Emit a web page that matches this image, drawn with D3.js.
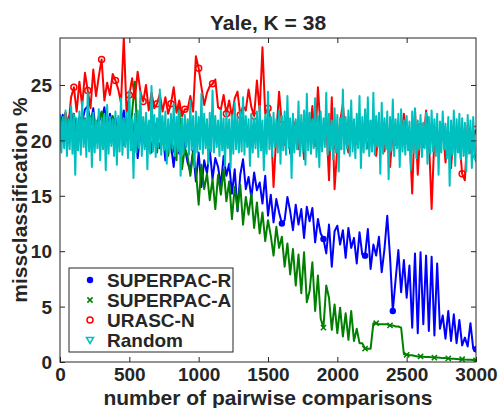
<!DOCTYPE html>
<html>
<head>
<meta charset="utf-8">
<script src="https://cdn.jsdelivr.net/npm/d3@7"></script>
<style>
  body { margin: 0; background: #fff; }
  text { font-family: "Liberation Sans", Arial, sans-serif; font-weight: bold; fill: #262626; }
</style>
</head>
<body>
<div id="chart"></div>
<script>
// sample positions (number of pairwise comparisons)
const xCoarse = d3.range(0, 3001, 20);
const xFine = d3.range(0, 3001, 10);

const xTicks = [0, 500, 1000, 1500, 2000, 2500, 3000];
const yTicks = [0, 5, 10, 15, 20, 25];

const names = ["SUPERPAC-R", "SUPERPAC-A", "URASC-N", "Random"];

// SUPERPAC-R, step 20
const superpacR = [
  21.5, 22.3, 20.8, 21.9, 22.6, 21.2, 20.5, 22.1, 21.7, 22.8,
  23.1, 21.4, 22.9, 20.6, 22.2, 21.8, 23.0, 20.9, 22.4, 21.3,
  22.0, 19.8, 21.5, 22.7, 20.3, 21.1, 19.2, 21.9, 18.4, 20.6,
  21.3, 19.5, 20.8, 18.9, 21.6, 20.1, 19.3, 21.0, 18.2, 20.4,
  19.6, 17.6, 20.2, 18.8, 21.0, 19.4, 18.0, 17.2, 19.1, 16.3,
  18.9, 15.8, 18.2, 17.0, 19.2, 16.5, 18.4, 17.6, 15.9, 18.6,
  16.8, 17.9, 15.2, 17.4, 13.6, 16.9, 18.3, 15.6, 16.7, 14.8,
  17.1, 15.5, 16.2, 14.3, 16.8, 13.2, 15.1, 12.6, 14.7, 13.5,
  12.5, 12.8, 14.9, 13.6, 11.9, 14.2, 12.4, 13.8, 11.2, 14.0,
  12.7, 13.9, 10.8, 12.9, 11.6, 11.1, 9.8, 12.4, 8.6, 11.8,
  12.3, 10.6, 11.9, 9.4, 12.1, 10.3, 11.2, 8.9, 11.7, 9.7,
  9.6, 12.0, 8.4, 10.6, 9.6, 11.3, 8.1, 10.2, 13.2, 9.5,
  4.6, 7.4, 10.1, 6.3, 9.2, 5.8, 8.7, 3.1, 9.8, 2.6,
  9.9, 3.4, 9.6, 2.8, 9.5, 2.4, 8.9, 3.0, 4.2, 2.1,
  4.6, 1.9, 4.3, 1.7, 3.8, 1.5, 2.2, 1.4, 3.5, 1.2,
  1.15
];

// SUPERPAC-A, step 20
const superpacA = [
  21.2, 20.4, 22.1, 21.6, 20.9, 22.4, 21.0, 20.2, 21.8, 22.0,
  20.6, 21.5, 22.3, 20.1, 21.9, 22.6, 20.8, 21.3, 19.9, 22.2,
  21.4, 20.5, 22.0, 19.6, 21.7, 20.3, 22.5, 25.3, 19.8, 21.6,
  20.2, 21.8, 19.4, 21.2, 20.7, 18.9, 21.5, 19.7, 20.9, 18.6,
  20.3, 19.1, 18.2, 23.4, 17.4, 19.3, 18.6, 16.8, 18.9, 17.3,
  14.2, 17.8, 15.6, 17.0, 14.6, 16.5, 13.8, 16.9, 15.1, 17.4,
  14.5, 16.3, 12.9, 15.8, 13.7, 16.0, 12.4, 14.9, 13.3, 15.2,
  12.1, 14.4, 11.6, 13.5, 10.9, 12.8, 11.4, 9.6, 12.2, 10.3,
  11.3, 8.6, 10.7, 7.9, 10.2, 6.9, 9.7, 6.2, 9.9, 5.4,
  6.4, 9.0, 4.6, 7.8, 3.9, 3.1, 6.9, 5.8, 2.9, 5.2,
  2.6, 4.9, 2.3, 4.4, 2.0, 4.6, 1.9, 3.0, 1.7, 1.7,
  1.2, 1.2, 1.2, 3.5, 3.5, 3.4, 3.4, 3.4, 3.4, 3.3,
  3.3, 3.2, 3.2, 3.1, 0.7, 0.65, 0.6, 0.6, 0.55, 0.5,
  0.5, 0.48, 0.45, 0.45, 0.42, 0.4, 0.4, 0.38, 0.35, 0.35,
  0.33, 0.3, 0.3, 0.28, 0.25, 0.25, 0.22, 0.2, 0.2, 0.18,
  0.15
];

// URASC-N, step 20
const urascN = [
  20.5, 21.8, 22.5, 21.2, 23.9, 24.8, 22.6, 25.3, 23.1, 26.1,
  24.5, 22.9, 26.4, 24.0, 25.8, 27.3, 23.6, 25.2, 24.1, 26.0,
  25.4, 24.6, 23.4, 29.3, 22.5, 24.1, 25.6, 23.8, 26.2, 24.4,
  23.5, 25.0, 22.7, 24.3, 22.9, 23.3, 24.2, 22.6, 23.9, 22.4,
  23.3, 24.8, 22.5, 23.6, 22.2, 22.8, 22.8, 24.0, 22.6, 27.6,
  26.5, 24.8, 23.2, 24.3, 24.9, 25.1, 25.5, 23.0, 22.8, 24.1,
  22.4, 23.6, 22.1, 23.8, 24.4, 22.3, 23.1, 22.7, 24.6, 23.0,
  22.2, 25.4, 22.6, 28.4, 22.4, 22.9, 21.9, 15.8, 20.6, 24.4,
  21.4, 19.6, 22.3, 18.8, 21.8, 21.2, 19.2, 21.6, 18.3, 22.5,
  20.7, 23.1, 19.5, 24.8, 20.9, 20.3, 21.8, 16.4, 23.9, 15.6,
  19.4, 21.7, 23.3, 20.1, 18.9, 21.0, 20.6, 19.7, 21.5, 20.0,
  20.5, 19.3, 21.0, 20.4, 18.6, 21.0, 20.2, 19.0, 21.3, 17.6,
  20.8, 19.6, 21.5, 20.0, 22.4, 20.2, 20.7, 15.2, 22.8, 16.9,
  21.2, 19.4, 22.7, 20.3, 13.8, 20.3, 20.9, 19.1, 21.6, 18.0,
  20.4, 17.5, 21.1, 19.6, 20.0, 17.0, 16.4, 21.4, 18.9, 20.2,
  21.0
];

// Random, step 10
const random = [
  22.4, 18.9, 22.1, 19.3, 22.7, 18.6, 21.9, 19.2, 23.1, 18.8,
  22.3, 16.9, 22.0, 19.1, 22.6, 18.7, 23.5, 19.4, 21.9, 18.5,
  24.3, 19.0, 22.2, 17.6, 22.5, 18.9, 21.8, 19.3, 22.8, 18.2,
  22.0, 19.2, 22.4, 17.3, 23.2, 18.8, 22.1, 19.5, 21.9, 18.6,
  22.6, 17.8, 22.2, 19.0, 23.8, 18.7, 22.0, 19.4, 22.5, 18.4,
  24.5, 19.1, 21.9, 16.6, 22.4, 18.9, 22.7, 19.3, 24.4, 18.6,
  22.1, 19.2, 22.5, 17.4, 21.8, 18.8, 24.9, 19.0, 22.3, 18.5,
  22.0, 19.4, 24.6, 18.7, 22.2, 19.1, 22.6, 17.9, 21.9, 18.9,
  22.4, 19.3, 23.3, 18.6, 22.1, 19.0, 22.7, 16.8, 22.0, 18.8,
  22.3, 19.4, 21.9, 18.7, 23.6, 19.1, 22.2, 17.6, 22.6, 18.9,
  22.1, 19.2, 24.2, 18.8, 22.4, 19.3, 21.9, 17.9, 22.5, 19.0,
  24.5, 18.9, 22.2, 19.4, 21.8, 18.6, 22.7, 19.1, 22.0, 17.7,
  22.5, 19.3, 21.9, 17.5, 22.3, 18.8, 23.4, 19.2, 22.1, 18.9,
  22.6, 19.0, 23.9, 18.7, 22.2, 19.4, 21.9, 17.7, 22.4, 18.9,
  22.0, 19.3, 22.6, 18.5, 23.1, 19.1, 21.8, 17.3, 22.3, 18.8,
  24.4, 19.2, 22.1, 18.6, 22.5, 19.4, 21.9, 18.9, 22.7, 17.9,
  22.2, 19.1, 22.6, 18.7, 24.0, 19.3, 22.0, 16.6, 22.4, 18.9,
  21.9, 19.2, 23.5, 18.6, 22.3, 19.0, 22.7, 17.8, 24.2, 19.1,
  22.5, 18.8, 21.9, 19.3, 23.8, 18.5, 22.2, 17.6, 22.6, 19.0,
  22.0, 19.4, 24.3, 18.7, 22.4, 19.1, 21.8, 18.3, 22.9, 18.9,
  22.3, 17.2, 22.0, 19.2, 24.6, 18.8, 22.1, 19.3, 22.7, 18.6,
  23.6, 19.0, 21.9, 18.4, 22.4, 19.3, 24.0, 17.5, 22.1, 18.9,
  22.8, 19.2, 23.9, 18.6, 21.8, 19.0, 24.3, 18.7, 22.2, 19.4,
  22.5, 17.0, 23.4, 18.8, 22.0, 19.2, 22.6, 16.5, 22.1, 19.1,
  23.7, 18.6, 21.9, 19.3, 22.4, 17.6, 22.8, 19.0, 21.8, 18.7,
  22.2, 19.1, 21.7, 17.3, 22.6, 18.9, 22.9, 18.4, 21.8, 19.2,
  22.3, 18.5, 21.6, 19.3, 22.5, 17.9, 22.1, 18.8, 22.7, 19.0,
  21.9, 18.6, 22.4, 16.9, 21.7, 18.9, 22.6, 19.2, 21.5, 18.4,
  22.1, 15.9, 21.8, 18.7, 22.7, 17.7, 21.9, 18.9, 22.4, 18.3,
  22.0, 18.6, 21.6, 17.2, 22.3, 18.8, 21.8, 17.5, 22.1, 18.6,
  18.4
];

// comparisons where markers are drawn
const markR = [1600, 1900, 2200, 2400, 3000];
const markA = [1900, 2200, 2280, 2380, 2500, 2600, 2700, 2800, 2900, 3000];
const markN = d3.range(0, 3001, 100);
const markRand = [3000];

const series = [
  { name: names[0], xs: xCoarse, ys: superpacR, color: "#0000ff", marker: "dot", marks: markR },
  { name: names[1], xs: xCoarse, ys: superpacA, color: "#008000", marker: "cross", marks: markA },
  { name: names[2], xs: xCoarse, ys: urascN, color: "#ff0000", marker: "circle", marks: markN },
  { name: names[3], xs: xFine, ys: random, color: "#00bfbf", marker: "tri", marks: markRand }
];

const W = 498, H = 408;
const margin = { top: 38, right: 22, bottom: 46, left: 60 };
const width = W - margin.left - margin.right;
const height = H - margin.top - margin.bottom;

const svg = d3.select("#chart").append("svg").attr("width", W).attr("height", H);
const g = svg.append("g").attr("transform", `translate(${margin.left},${margin.top})`);

const x = d3.scaleLinear().domain([0, 3000]).range([0, width]);
const y = d3.scaleLinear().domain([0, 29.24]).range([height, 0]);

g.append("clipPath").attr("id", "clip")
  .append("rect").attr("width", width).attr("height", height);

const plot = g.append("g").attr("clip-path", "url(#clip)");

function drawMarker(sel, type, color) {
  if (type === "dot") {
    sel.append("circle").attr("r", 3.2).attr("fill", color);
  } else if (type === "circle") {
    sel.append("circle").attr("r", 3).attr("fill", "none").attr("stroke", color).attr("stroke-width", 1.5);
  } else if (type === "cross") {
    sel.append("path").attr("d", "M-2.6,-2.6L2.6,2.6M-2.6,2.6L2.6,-2.6")
      .attr("stroke", color).attr("stroke-width", 1.5);
  } else {
    sel.append("path").attr("d", "M-3.5,-2.5L3.5,-2.5L0,3.5Z")
      .attr("fill", "none").attr("stroke", color).attr("stroke-width", 1.5);
  }
}

series.forEach(function (s) {
  const pts = s.xs.map((d, i) => [d, s.ys[i]]);
  plot.append("path")
    .datum(pts)
    .attr("fill", "none")
    .attr("stroke", s.color)
    .attr("stroke-width", 2)
    .attr("stroke-linejoin", "round")
    .attr("d", d3.line().x(d => x(d[0])).y(d => y(d[1])));

  const mk = pts.filter(d => s.marks.includes(d[0]));
  plot.selectAll(null)
    .data(mk)
    .enter()
    .append("g")
    .attr("transform", d => `translate(${x(d[0])},${y(d[1])})`)
    .each(function () { drawMarker(d3.select(this), s.marker, s.color); });
});

// axes, MATLAB style: ticks inside, box all round
const axColor = "#262626";
const fs = 19;

const xAxis = g.append("g").attr("transform", `translate(0,${height})`)
  .call(d3.axisBottom(x).tickValues(xTicks).tickSize(-5).tickPadding(6).tickFormat(d3.format("d")));
const yAxis = g.append("g")
  .call(d3.axisLeft(y).tickValues(yTicks).tickSize(-5).tickPadding(8));
g.append("g")
  .call(d3.axisTop(x).tickValues(xTicks.slice(1, -1)).tickSize(-5).tickFormat(""));
g.append("g").attr("transform", `translate(${width},0)`)
  .call(d3.axisRight(y).tickValues(yTicks.slice(1)).tickSize(-5).tickFormat(""));

g.selectAll(".domain").remove();
g.selectAll(".tick line").attr("stroke", axColor).attr("stroke-width", 1);
xAxis.selectAll("text").attr("font-size", fs).attr("fill", axColor);
yAxis.selectAll("text").attr("font-size", fs).attr("fill", axColor).attr("dy", "0.35em");

g.append("rect")
  .attr("width", width).attr("height", height)
  .attr("fill", "none").attr("stroke", axColor).attr("stroke-width", 1);

// labels
svg.append("text")
  .attr("x", margin.left + width / 2).attr("y", 30)
  .attr("text-anchor", "middle").attr("font-size", 21)
  .text("Yale, K = 38");

svg.append("text")
  .attr("x", margin.left + width / 2).attr("y", 405)
  .attr("text-anchor", "middle").attr("font-size", 21).attr("fill", axColor)
  .text("number of pairwise comparisons");

svg.append("text")
  .attr("transform", `translate(27,${margin.top + height / 2}) rotate(-90)`)
  .attr("text-anchor", "middle").attr("font-size", 21).attr("fill", axColor)
  .text("missclassification %");

// legend
const lg = svg.append("g").attr("transform", "translate(69,268)");
lg.append("rect").attr("width", 164).attr("height", 84)
  .attr("fill", "#fff").attr("stroke", axColor).attr("stroke-width", 1);
series.forEach(function (s, i) {
  const row = lg.append("g").attr("transform", `translate(0,${12 + i * 20})`);
  const m = row.append("g").attr("transform", "translate(21,0)");
  drawMarker(m, s.marker, s.color);
  row.append("text").attr("x", 38).attr("dy", "0.35em")
    .attr("font-size", 19).attr("fill", "#000").text(s.name);
});
</script>
</body>
</html>
